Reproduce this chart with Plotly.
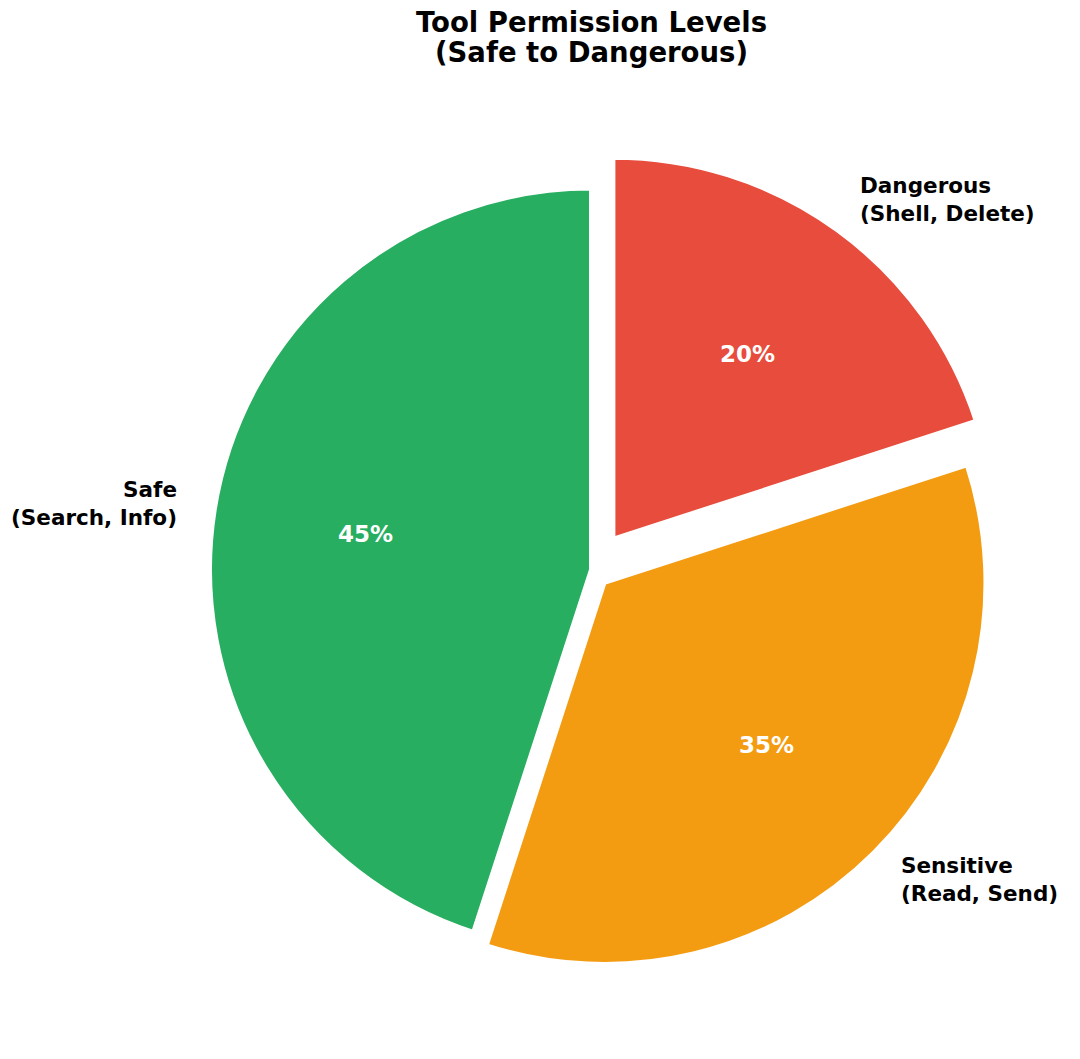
import math
import plotly.graph_objects as go

# ---- data ----
labels = ["Safe<br>(Search, Info)", "Sensitive<br>(Read, Send)", "Dangerous<br>(Shell, Delete)"]
values = [45, 35, 20]
colors = ["#27ae60", "#f39c12", "#e74c3c"]
pulls = [0.0, 0.05, 0.1]
title_line1 = "Tool Permission Levels"
title_line2 = "(Safe to Dangerous)"

W, H = 1080, 1059
FONT = "DejaVu Sans"

# pie domain (pixels) -> plotly sizes radius as side / (2 + 2*maxPull)
CX, CY = 591, 569.5
max_pull = max(pulls)
R = 381
half = R * (1 + max_pull)
dom_x = [(CX - half) / W, (CX + half) / W]
dom_y = [1 - (CY + half) / H, 1 - (CY - half) / H]

total = sum(values)
# first slice should start at 12 o'clock and run counterclockwise
first_span = 360.0 * values[0] / total

fig = go.Figure(go.Pie(
    labels=labels,
    values=values,
    sort=False,
    direction="counterclockwise",
    rotation=-first_span,
    pull=pulls,
    marker=dict(colors=colors, line=dict(color="white", width=4)),
    textinfo="none",
    hoverinfo="label+percent",
    domain=dict(x=dom_x, y=dom_y),
    showlegend=False,
))

# labels and percentages placed at matplotlib-style distances along each wedge's mid-angle
start = 90.0
annotations = []
for lab, v, p in zip(labels, values, pulls):
    span = 360.0 * v / total
    mid = math.radians(start + span / 2)
    start += span
    c, s = math.cos(mid), math.sin(mid)
    ox, oy = CX + p * R * c, CY - p * R * s
    lx, ly = ox + 1.1 * R * c, oy - 1.1 * R * s
    px_, py_ = ox + 0.6 * R * c, oy - 0.6 * R * s
    right = c < 0
    annotations.append(dict(
        x=lx / W, y=1 - ly / H, xref="paper", yref="paper",
        text=f"<b>{lab}</b>", showarrow=False,
        xanchor="right" if right else "left", yanchor="middle",
        align="right" if right else "left", borderpad=0, borderwidth=0,
        font=dict(family=FONT, size=21.5, color="black"),
    ))
    annotations.append(dict(
        x=px_ / W, y=1 - py_ / H, xref="paper", yref="paper",
        text=f"<b>{v / total * 100:.0f}%</b>", showarrow=False,
        xanchor="center", yanchor="middle", borderpad=0, borderwidth=0,
        font=dict(family=FONT, size=23, color="white"),
    ))

# second title line (matplotlib-like tighter line spacing)
annotations.append(dict(
    x=591.5 / W, y=1 - 52 / H, xref="paper", yref="paper",
    text=f"<b>{title_line2}</b>", showarrow=False,
    xanchor="center", yanchor="middle", borderpad=0, borderwidth=0,
    font=dict(family=FONT, size=27.5, color="black"),
))

fig.update_layout(
    width=W, height=H,
    margin=dict(l=0, r=0, t=0, b=0),
    paper_bgcolor="white", plot_bgcolor="white",
    title=dict(text=f"<b>{title_line1}</b>", x=591.5 / W, xanchor="center",
               y=1 - 22 / H, yanchor="middle",
               font=dict(family=FONT, size=27.5, color="black")),
    annotations=annotations,
)

fig.write_html("out.html", config={"displayModeBar": False},
               post_script="document.body.style.margin='0';")
